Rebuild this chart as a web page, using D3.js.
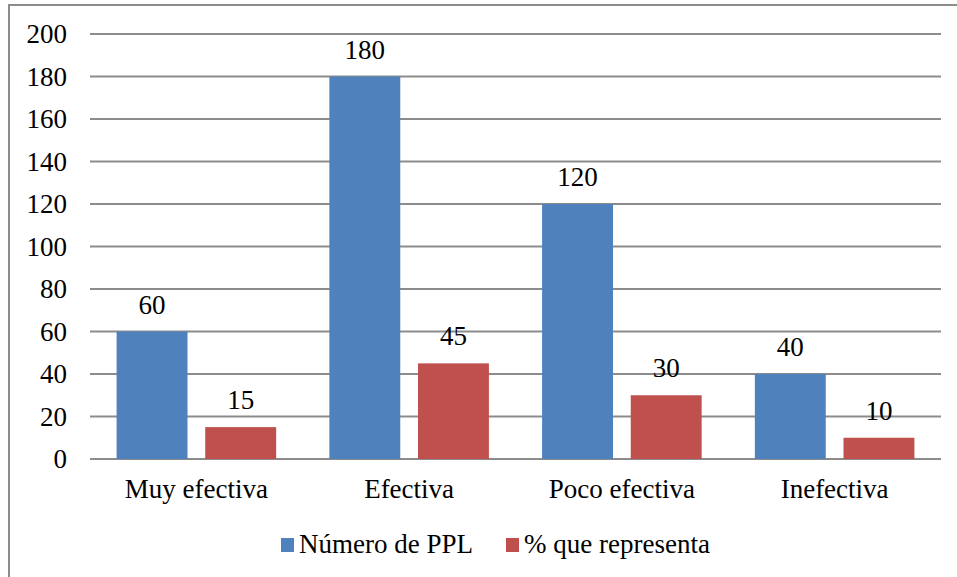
<!DOCTYPE html>
<html lang="es">
<head>
    <meta charset="UTF-8">
    <title>Efectividad</title>
    <style>
    body { margin: 0; background: #fff; }
    .grid line { stroke: #8c8c8c; stroke-width: 2px; }
    text { font-family: "Liberation Serif", "Times New Roman", "DejaVu Serif", serif; font-size: 27px; }
    </style>
</head>
<body>
    <svg id="chart" width="957" height="577"></svg>
    <script src="https://d3js.org/d3.v7.min.js"></script>
    <script>
    var categories = ["Muy efectiva", "Efectiva", "Poco efectiva", "Inefectiva"];
    var seriesNames = ["Número de PPL", "% que representa"];
    var numeroPPL = [60, 180, 120, 40];
    var porcentaje = [15, 45, 30, 10];
    var yTicks = [0, 20, 40, 60, 80, 100, 120, 140, 160, 180, 200];
    var colors = ["#4f81bd", "#c0504d"];

    var svg = d3.select("#chart"),
        margin = { top: 34, right: 16, bottom: 118, left: 90 },
        width = +svg.attr("width") - margin.left - margin.right,
        height = +svg.attr("height") - margin.top - margin.bottom;

    // outer border of the chart area
    svg.append("rect")
        .attr("x", 9).attr("y", 5)
        .attr("width", 960).attr("height", 600)
        .attr("fill", "none")
        .attr("stroke", "#8c8c8c")
        .attr("stroke-width", 2);

    var g = svg.append("g").attr("transform", "translate(" + margin.left + "," + margin.top + ")");

    var x0 = d3.scaleBand().domain(categories).range([0, width]).paddingInner(0.25).paddingOuter(0.125);
    var x1 = d3.scaleBand().domain(seriesNames).range([0, x0.bandwidth()]).paddingInner(0.2);
    var y = d3.scaleLinear().domain([0, 200]).range([height, 0]);

    g.append("g")
        .attr("class", "grid")
        .selectAll("line")
        .data(yTicks)
        .enter().append("line")
        .attr("x1", 0).attr("x2", width)
        .attr("y1", d => y(d)).attr("y2", d => y(d));

    g.append("g")
        .selectAll("text")
        .data(yTicks)
        .enter().append("text")
        .attr("x", -23)
        .attr("y", d => y(d))
        .attr("dy", "0.34em")
        .attr("text-anchor", "end")
        .text(d => d);

    var rows = categories.map((c, i) => ({ cat: c, values: [numeroPPL[i], porcentaje[i]] }));

    var group = g.selectAll(".cat")
        .data(rows)
        .enter().append("g")
        .attr("class", "cat")
        .attr("transform", d => "translate(" + x0(d.cat) + ",0)");

    group.selectAll("rect")
        .data(d => d.values.map((v, j) => ({ s: seriesNames[j], v: v, j: j })))
        .enter().append("rect")
        .attr("x", d => x1(d.s))
        .attr("y", d => y(d.v))
        .attr("width", x1.bandwidth())
        .attr("height", d => height - y(d.v))
        .attr("fill", d => colors[d.j]);

    group.selectAll(".val")
        .data(d => d.values.map((v, j) => ({ s: seriesNames[j], v: v })))
        .enter().append("text")
        .attr("class", "val")
        .attr("x", d => x1(d.s) + x1.bandwidth() / 2)
        .attr("y", d => y(d.v) - 18)
        .attr("text-anchor", "middle")
        .text(d => d.v);

    g.append("g")
        .selectAll("text")
        .data(categories)
        .enter().append("text")
        .attr("x", d => x0(d) + x0.bandwidth() / 2)
        .attr("y", height + 39)
        .attr("text-anchor", "middle")
        .text(d => d);

    // legend
    var legendX = [281, 506];
    var legend = svg.append("g")
        .selectAll("g")
        .data(seriesNames)
        .enter().append("g")
        .attr("transform", (d, i) => "translate(" + legendX[i] + ",538)");

    legend.append("rect")
        .attr("width", 13).attr("height", 14)
        .attr("fill", (d, i) => colors[i]);

    legend.append("text")
        .attr("x", 18)
        .attr("y", 15)
        .text(d => d);
    </script>
</body>
</html>
